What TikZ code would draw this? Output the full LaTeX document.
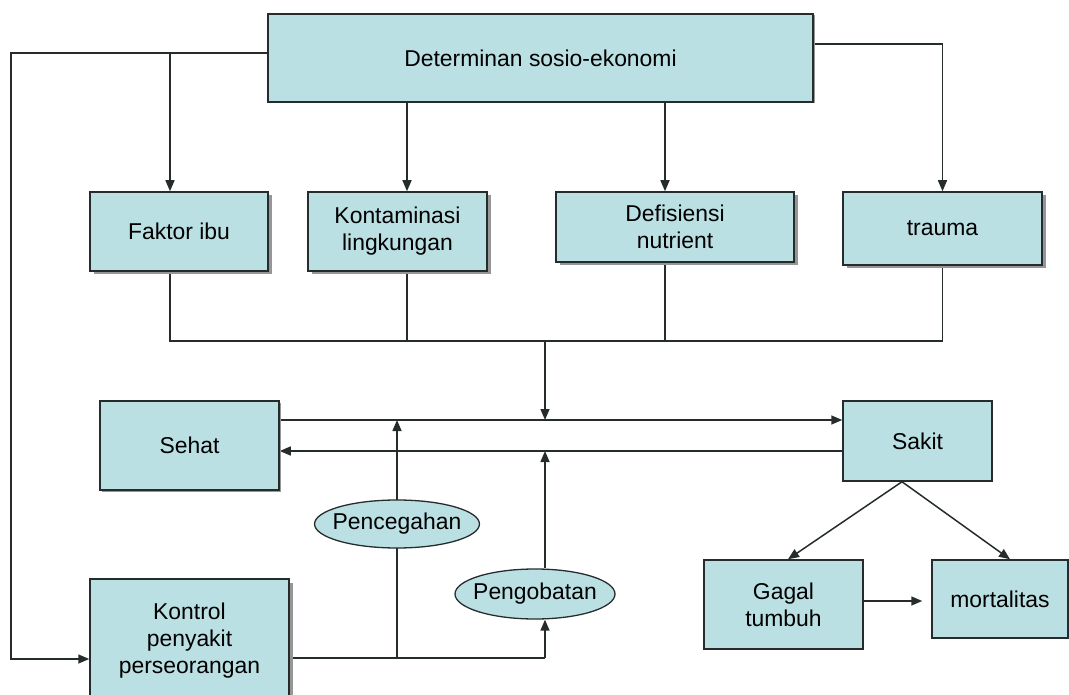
\documentclass[tikz,border=0pt]{standalone}
\usepackage{fontspec}
\setmainfont{Liberation Sans}
\usetikzlibrary{arrows.meta,shapes.geometric,shadows,backgrounds}
\definecolor{boxfill}{RGB}{187,224,227}
\definecolor{edge}{RGB}{38,44,44}
\definecolor{shade}{RGB}{150,150,150}
\begin{document}
\begin{tikzpicture}[x=1pt,y=-1pt,
  font=\fontsize{22.9}{27}\selectfont,
  box/.style={rectangle,draw=edge,line width=1.5pt,fill=boxfill,align=center,inner sep=0pt},
  shbox/.style={box,drop shadow={shadow xshift=3.5pt,shadow yshift=-3.5pt,fill=shade,opacity=1}},
  smallsh/.style={box,drop shadow={shadow xshift=1.5pt,shadow yshift=-1.5pt,fill=shade,opacity=1}},
  oval/.style={ellipse,draw=edge,line width=1.3pt,fill=boxfill,inner xsep=-6pt,inner ysep=0pt},
  link/.style={draw=edge,line width=1.5pt},
  arr/.style={link,-{Triangle[length=11pt,width=9pt]}}]
\useasboundingbox (0,0) rectangle (1069,695);
\clip (0,0) rectangle (1069,695);

% boxes
\node[smallsh,minimum width=545pt,minimum height=88pt] (top) at (540.5,58) {Determinan sosio-ekonomi};
\node[shbox,minimum width=178pt,minimum height=79pt] (faktor) at (179,231.5) {Faktor ibu};
\node[shbox,minimum width=179pt,minimum height=79pt] (kont) at (397.5,231.5) {Kontaminasi\\lingkungan};
\node[shbox,minimum width=238pt,minimum height=70pt] (def) at (675,227) {Defisiensi\\nutrient};
\node[shbox,minimum width=199pt,minimum height=73pt] (trauma) at (942.5,228.5) {trauma};
\node[smallsh,minimum width=179pt,minimum height=89pt] (sehat) at (189.5,445.5) {Sehat};
\node[box,minimum width=149pt,minimum height=80pt] (sakit) at (917.5,441) {Sakit};
\node[shbox,minimum width=199pt,minimum height=124pt] (kontrol) at (189.5,641) {Kontrol\\penyakit\\perseorangan};
\node[box,minimum width=159pt,minimum height=89pt] (gagal) at (783.5,604.5) {Gagal\\tumbuh};
\node[box,minimum width=136pt,minimum height=78pt] (mort) at (1000,599) {mortalitas};
\node[oval,minimum width=160pt,minimum height=48pt] (pc) at (397,524) {Pencegahan};
\node[oval,minimum width=160pt,minimum height=50pt] (pg) at (535,594) {Pengobatan};

% junction points
\coordinate (jL) at (11,53);
\coordinate (bus) at (545,341);
\coordinate (upper) at ([yshift=25.5pt]sehat.east);
\coordinate (lower) at ([yshift=-10pt]sakit.west);
\coordinate (kout) at ([yshift=-17pt]kontrol.east);
\coordinate (gm) at ([xshift=-9pt]mort.west);

\begin{scope}[on background layer]
  % from the socio-economic determinants
  \draw[arr] ([yshift=5pt]top.west) -- (jL) |- ([yshift=-18pt]kontrol.west);
  \draw[arr] ([xshift=-9pt]faktor.north |- jL) -- ([xshift=-9pt]faktor.north);
  \draw[arr] ([xshift=9.5pt]kont.north |- top.south) -- ([xshift=9.5pt]kont.north);
  \draw[arr] ([xshift=-10pt]def.north |- top.south) -- ([xshift=-10pt]def.north);
  \draw[arr] ([yshift=14pt]top.east) -| (trauma.north);
  % collecting bus
  \draw[link] ([xshift=-9pt]faktor.south) |- (trauma.south |- bus) -- (trauma.south);
  \draw[link] ([xshift=9.5pt]kont.south) -- ([xshift=9.5pt]kont.south |- bus);
  \draw[link] ([xshift=-10pt]def.south) -- ([xshift=-10pt]def.south |- bus);
  \draw[arr] (bus) -- (bus |- upper);
  % healthy / sick
  \draw[arr] (upper) -- (upper -| sakit.west);
  \draw[arr] (lower) -- (lower -| sehat.east);
  % prevention and treatment
  \draw[link] (kout) -- ([xshift=10pt]pg.south |- kout);
  \draw[arr] (pc.center |- kout) -- (pc.center |- upper);
  \draw[arr] ([xshift=10pt]pg.south |- kout) -- ([xshift=10pt]pg.south);
  \draw[arr] ([xshift=10pt]pg.north) -- ([xshift=10pt]pg.north |- lower);
  % outcomes
  \draw[arr] ([xshift=-15.5pt]sakit.south) -- ([xshift=4.5pt]gagal.north);
  \draw[arr] ([xshift=-15.5pt]sakit.south) -- ([xshift=10pt]mort.north);
  \draw[arr] ([yshift=3.5pt]gagal.east) -- ([yshift=3.5pt]gagal.east -| gm);
\end{scope}
\end{tikzpicture}
\end{document}
